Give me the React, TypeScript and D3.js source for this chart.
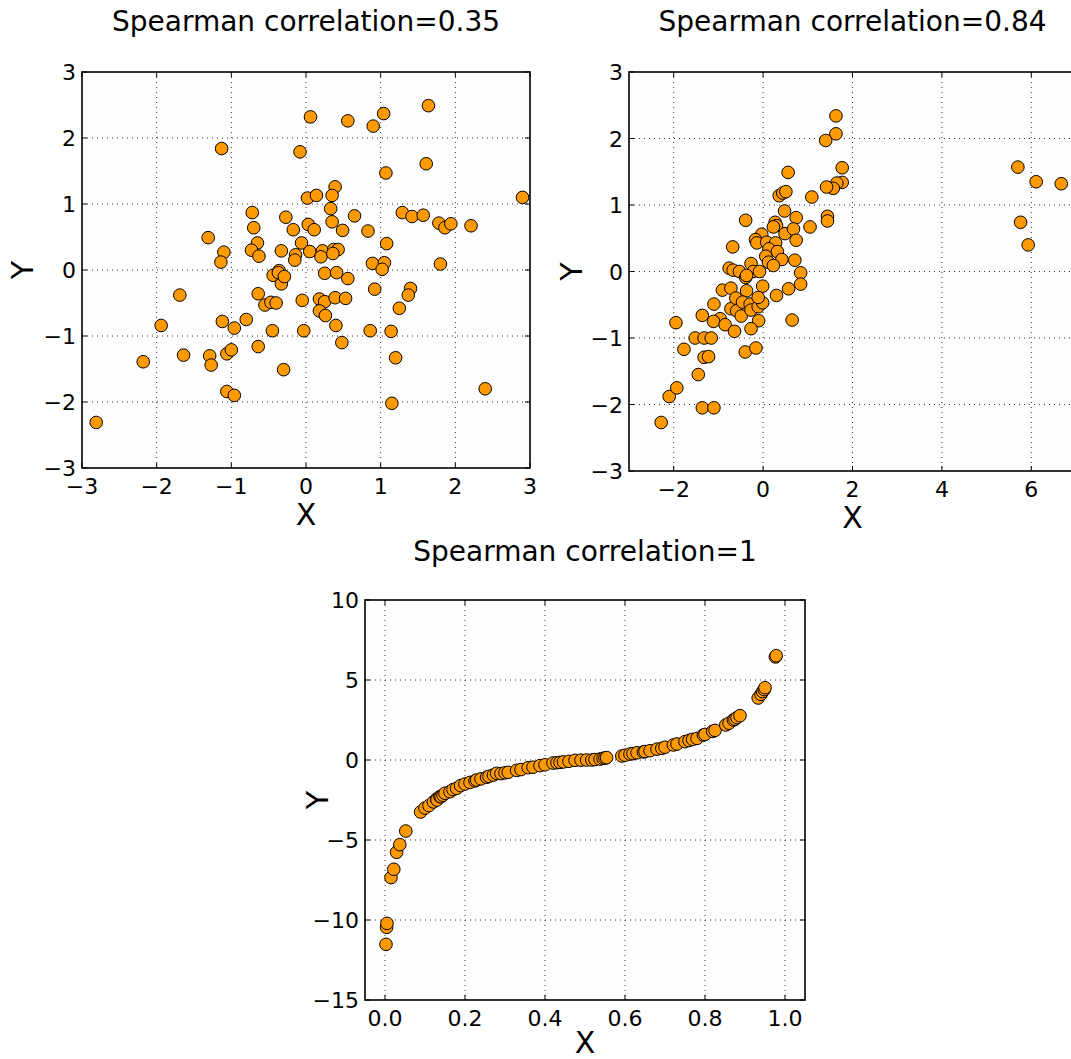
import React from "react";
import * as d3 from "d3";

// ---------- data ----------
const TL_POINTS: [number, number][] = [
  [-1.13, 1.84], [-0.72, 0.87], [-0.70, 0.64], [-1.31, 0.49], [-0.65, 0.41], [-1.10, 0.27], [-0.73, 0.30],
  [-0.63, 0.21], [-1.14, 0.12], [-1.69, -0.38], [-0.64, -0.36], [-0.44, -0.08], [-0.36, -0.01], [-0.33, -0.21],
  [-2.81, -2.31], [-2.18, -1.39], [-1.94, -0.84], [-1.64, -1.29], [-1.29, -1.30], [-1.27, -1.44], [-1.12, -0.78],
  [-0.96, -0.88], [-0.80, -0.75], [-1.06, -1.27], [-1.00, -1.21], [-1.06, -1.84], [-0.96, -1.90], [-0.64, -1.16],
  [-0.45, -0.92], [-0.55, -0.53], [-0.47, -0.49], [-0.40, -0.50], [-0.30, -1.51],
  [0.06, 2.32], [0.56, 2.26], [0.90, 2.18], [1.04, 2.37], [1.64, 2.49], [-0.08, 1.79], [1.07, 1.47], [1.61, 1.61],
  [0.39, 1.26], [0.02, 1.09], [0.14, 1.13], [0.35, 1.13], [0.33, 0.93], [2.90, 1.10], [-0.27, 0.80], [-0.17, 0.61],
  [0.03, 0.69], [0.11, 0.61], [0.35, 0.73], [0.65, 0.82], [0.49, 0.60], [0.83, 0.59], [1.29, 0.87], [1.42, 0.81],
  [1.57, 0.83], [1.78, 0.71], [1.86, 0.64], [1.94, 0.70], [2.21, 0.67], [-0.06, 0.41], [-0.33, 0.29], [-0.14, 0.23],
  [-0.15, 0.15], [0.05, 0.28], [0.22, 0.29], [0.20, 0.20], [0.37, 0.31], [0.43, 0.31], [0.36, 0.25], [1.08, 0.40],
  [0.89, 0.10], [1.05, 0.11], [1.02, 0.01], [1.80, 0.09], [-0.37, -0.04], [-0.29, -0.10], [0.25, -0.05], [0.41, -0.04],
  [0.56, -0.13], [0.92, -0.29], [1.40, -0.28], [1.37, -0.38],
  [-0.05, -0.46], [0.18, -0.44], [0.25, -0.48], [0.39, -0.42], [0.53, -0.43], [0.18, -0.62], [0.26, -0.69],
  [0.40, -0.84], [1.25, -0.58], [-0.03, -0.92], [0.48, -1.10], [0.86, -0.92], [1.14, -0.93], [1.20, -1.33],
  [1.15, -2.02], [2.40, -1.80],
];

const TR_POINTS: [number, number][] = [
  [0.56, 1.49], [0.36, 1.14], [0.44, 1.18], [0.51, 1.20], [1.09, 1.12], [0.48, 0.91], [0.74, 0.81], [-0.39, 0.77],
  [1.05, 0.67], [0.27, 0.74], [0.30, 0.69], [0.23, 0.67], [0.49, 0.57], [0.68, 0.64], [0.74, 0.47], [-0.03, 0.56],
  [-0.17, 0.48], [-0.14, 0.43], [0.08, 0.44], [0.28, 0.43], [-0.68, 0.37], [0.13, 0.34], [0.32, 0.30], [0.06, 0.23],
  [0.42, 0.18], [0.71, 0.17], [0.12, 0.14], [0.23, 0.09], [-0.76, 0.05], [-0.67, 0.02], [-0.53, 0.00], [-0.39, -0.09],
  [-0.27, 0.12], [-0.22, 0.00], [-0.08, 0.00], [0.84, -0.02], [-0.91, -0.28], [-0.72, -0.25], [-0.37, -0.29],
  [-0.01, -0.22], [0.30, -0.36], [0.57, -0.26], [0.84, -0.19],
  [-2.28, -2.27], [-2.10, -1.88], [-1.93, -1.75], [-1.95, -0.77], [-1.77, -1.17], [-1.45, -1.55], [-1.36, -2.05],
  [-1.10, -2.05], [-1.32, -1.29], [-1.22, -1.28], [-1.52, -1.00], [-1.32, -1.00], [-1.16, -1.00], [-1.36, -0.66],
  [-1.10, -0.49], [-0.96, -0.71], [-1.11, -0.75], [-0.85, -0.80], [-0.64, -0.90], [-0.72, -0.56], [-0.59, -0.59],
  [-0.49, -0.67], [-0.61, -0.40], [-0.46, -0.46], [-0.29, -0.49], [-0.27, -0.58], [-0.11, -0.53], [-0.01, -0.47],
  [-0.11, -0.39], [-0.10, -0.74], [-0.27, -0.86], [-0.40, -1.21], [-0.16, -1.15], [0.65, -0.73], [-0.37, -0.06],
  [1.63, 2.34], [1.63, 2.07], [1.40, 1.97], [1.77, 1.56], [1.77, 1.34], [1.65, 1.33], [1.57, 1.25], [1.42, 1.27],
  [1.44, 0.83], [1.44, 0.76],
  [5.70, 1.57], [6.11, 1.35], [6.67, 1.32], [5.76, 0.74], [5.93, 0.40],
];

const BOT_POINTS: [number, number][] = [
  [0.0025, -11.52], [0.004, -10.46], [0.005, -10.21], [0.015, -7.35], [0.022, -6.83], [0.029, -5.77], [0.037, -5.29],
  [0.052, -4.44], [0.089, -3.25], [0.10, -3.0], [0.11, -2.85], [0.121, -2.62], [0.129, -2.44], [0.13, -2.5],
  [0.1375, -2.29], [0.14, -2.3], [0.145, -2.2], [0.15, -2.08], [0.1625, -1.98], [0.17, -1.85], [0.179, -1.77],
  [0.189, -1.60], [0.2, -1.5], [0.2125, -1.40], [0.225, -1.31], [0.229, -1.25], [0.24, -1.18], [0.254, -1.08],
  [0.26, -1.02], [0.271, -0.94], [0.279, -0.83], [0.29, -0.85], [0.3, -0.8], [0.308, -0.77], [0.329, -0.65],
  [0.34, -0.6], [0.358, -0.48], [0.37, -0.45], [0.3875, -0.35], [0.40, -0.3], [0.42, -0.19], [0.43, -0.17],
  [0.4375, -0.15], [0.446, -0.12], [0.46, -0.08], [0.475, -0.02], [0.49, -0.01], [0.504, 0.0], [0.517, 0.0],
  [0.525, 0.03], [0.5375, 0.06], [0.545, 0.1], [0.55, 0.12], [0.554, 0.15], [0.592, 0.25], [0.6, 0.3],
  [0.6125, 0.37], [0.62, 0.4], [0.63, 0.45], [0.646, 0.5], [0.65, 0.53], [0.6625, 0.58], [0.68, 0.68],
  [0.692, 0.73], [0.70, 0.8], [0.721, 0.94], [0.73, 1.0], [0.75, 1.15], [0.76, 1.22], [0.769, 1.29], [0.78, 1.35],
  [0.796, 1.56], [0.80, 1.6], [0.819, 1.79], [0.825, 1.85], [0.852, 2.19], [0.86, 2.3], [0.871, 2.5], [0.875, 2.55],
  [0.88, 2.65], [0.8875, 2.77], [0.933, 3.875], [0.94, 4.1], [0.944, 4.27], [0.948, 4.4], [0.95, 4.52],
  [0.976, 6.44], [0.978, 6.52],
];

const TL_XTICKS = [-3, -2, -1, 0, 1, 2, 3];
const TL_YTICKS = [-3, -2, -1, 0, 1, 2, 3];
const TR_XTICKS = [-2, 0, 2, 4, 6];
const TR_YTICKS = [-3, -2, -1, 0, 1, 2, 3];
const BOT_XTICKS = [0, 0.2, 0.4, 0.6, 0.8, 1.0];
const BOT_YTICKS = [-15, -10, -5, 0, 5, 10];

const TITLES = ["Spearman correlation=0.35", "Spearman correlation=0.84", "Spearman correlation=1"];

// ---------- layout ----------
type Panel = {
  id: string;
  title: string;
  data: [number, number][];
  x0: number; x1: number; y0: number; y1: number;
  xDomain: [number, number]; yDomain: [number, number];
  xTicks: number[]; yTicks: number[];
  xFmt: (v: number) => string;
  titleY: number; xLabelY: number; yLabelX: number;
};

const intFmt = d3.format("d");
const decFmt = d3.format(".1f");

const PANELS: Panel[] = [
  {
    id: "tl", title: TITLES[0], data: TL_POINTS,
    x0: 82, x1: 530, y0: 72, y1: 468, xDomain: [-3, 3], yDomain: [-3, 3],
    xTicks: TL_XTICKS, yTicks: TL_YTICKS, xFmt: intFmt,
    titleY: 31, xLabelY: 525, yLabelX: 33,
  },
  {
    id: "tr", title: TITLES[1], data: TR_POINTS,
    x0: 629, x1: 1076, y0: 72, y1: 471, xDomain: [-3, 7], yDomain: [-3, 3],
    xTicks: TR_XTICKS, yTicks: TR_YTICKS, xFmt: intFmt,
    titleY: 31, xLabelY: 528, yLabelX: 582,
  },
  {
    id: "bot", title: TITLES[2], data: BOT_POINTS,
    x0: 365, x1: 805, y0: 600, y1: 1000, xDomain: [-0.05, 1.05], yDomain: [-15, 10],
    xTicks: BOT_XTICKS, yTicks: BOT_YTICKS, xFmt: decFmt,
    titleY: 561, xLabelY: 1053, yLabelX: 328,
  },
];

const FONT = "'DejaVu Sans', Verdana, sans-serif";
const MARKER_FILL = "#ff9900";

function PanelView({ p }: { p: Panel }) {
  const x = d3.scaleLinear().domain(p.xDomain).range([p.x0, p.x1]);
  const y = d3.scaleLinear().domain(p.yDomain).range([p.y1, p.y0]);
  const tickLen = 5;
  const gridX = p.xTicks.filter((t) => x(t) > p.x0 + 1 && x(t) < p.x1 - 1);
  const gridY = p.yTicks.filter((t) => y(t) > p.y0 + 1 && y(t) < p.y1 - 1);
  const cx = (p.x0 + p.x1) / 2;
  const cy = (p.y0 + p.y1) / 2;
  return (
    <g>
      <defs>
        <clipPath id={`clip-${p.id}`}>
          <rect x={p.x0} y={p.y0} width={p.x1 - p.x0} height={p.y1 - p.y0} />
        </clipPath>
      </defs>
      <rect x={p.x0} y={p.y0} width={p.x1 - p.x0} height={p.y1 - p.y0} fill="#fdfdfd" />
      {/* grid */}
      <g stroke="#000" strokeWidth={1} strokeDasharray="1,4" opacity={0.8}>
        {gridX.map((t) => (
          <line key={`gx${t}`} x1={x(t)} x2={x(t)} y1={p.y0} y2={p.y1} />
        ))}
        {gridY.map((t) => (
          <line key={`gy${t}`} x1={p.x0} x2={p.x1} y1={y(t)} y2={y(t)} />
        ))}
      </g>
      {/* points */}
      <g clipPath={`url(#clip-${p.id})`}>
        {p.data.map((d, i) => (
          <circle key={i} cx={x(d[0])} cy={y(d[1])} r={6.3} fill={MARKER_FILL} stroke="#000" strokeWidth={1} />
        ))}
      </g>
      {/* ticks (inward, all four sides) */}
      <g stroke="#000" strokeWidth={1}>
        {p.xTicks.map((t) => (
          <g key={`tx${t}`}>
            <line x1={x(t)} x2={x(t)} y1={p.y1} y2={p.y1 - tickLen} />
            <line x1={x(t)} x2={x(t)} y1={p.y0} y2={p.y0 + tickLen} />
          </g>
        ))}
        {p.yTicks.map((t) => (
          <g key={`ty${t}`}>
            <line x1={p.x0} x2={p.x0 + tickLen} y1={y(t)} y2={y(t)} />
            <line x1={p.x1} x2={p.x1 - tickLen} y1={y(t)} y2={y(t)} />
          </g>
        ))}
      </g>
      {/* frame */}
      <rect x={p.x0} y={p.y0} width={p.x1 - p.x0} height={p.y1 - p.y0} fill="none" stroke="#000" strokeWidth={1.6} />
      {/* tick labels */}
      <g fontFamily={FONT} fontSize={22} fill="#000">
        {p.xTicks.map((t) => (
          <text key={`lx${t}`} x={x(t)} y={p.y1 + 26} textAnchor="middle">{p.xFmt(t)}</text>
        ))}
        {p.yTicks.map((t) => (
          <text key={`ly${t}`} x={p.x0 - 6} y={y(t) + 8} textAnchor="end">{intFmt(t)}</text>
        ))}
      </g>
      {/* axis labels */}
      <text x={cx} y={p.xLabelY} textAnchor="middle" fontFamily={FONT} fontSize={30}>X</text>
      <text x={p.yLabelX} y={cy} textAnchor="middle" fontFamily={FONT} fontSize={30}
        transform={`rotate(-90, ${p.yLabelX}, ${cy})`}>Y</text>
      {/* title */}
      <text x={cx} y={p.titleY} textAnchor="middle" fontFamily={FONT} fontSize={28}>{p.title}</text>
    </g>
  );
}

export default function App() {
  return (
    <svg width={1071} height={1059} viewBox="0 0 1071 1059"
      style={{ position: "absolute", left: 0, top: 0, background: "#fff" }}>
      <rect x={0} y={0} width={1071} height={1059} fill="#fff" />
      {PANELS.map((p) => (
        <PanelView key={p.id} p={p} />
      ))}
    </svg>
  );
}
